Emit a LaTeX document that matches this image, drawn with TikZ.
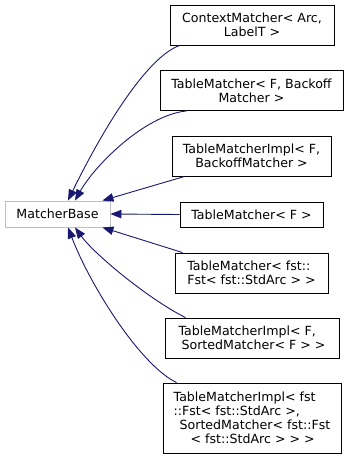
\documentclass[tikz,border=0pt]{standalone}
\usepackage{fontspec}
\setmainfont{DejaVu Sans}
\usetikzlibrary{arrows.meta}
\definecolor{edgeblue}{HTML}{191970}
\definecolor{basegray}{HTML}{BFBFBF}
\begin{document}
\begin{tikzpicture}[x=1pt,y=-1pt,
  cls/.style={draw=black, line width=0.9pt, inner sep=0pt, fill=white,
    font=\fontsize{12.6}{14}\selectfont, align=center},
  inherit/.style={draw=edgeblue, line width=0.9pt,
    {Triangle[length=11pt,width=8.5pt]}-}]
\useasboundingbox (0,0) rectangle (349,459);

% base class
\node[cls, draw=basegray, minimum width=105pt, minimum height=26pt] (mb) at (57.5,214) {MatcherBase};

% derived classes
\node[cls, minimum width=164pt, minimum height=40pt] (c1) at (252,25)
  {ContextMatcher< Arc,\\LabelT >};
\node[cls, minimum width=183pt, minimum height=40pt] (c2) at (251.5,90.5)
  {TableMatcher< F, Backoff\\Matcher >};
\node[cls, minimum width=159pt, minimum height=40pt] (c3) at (251.5,156)
  {TableMatcherImpl< F,\\BackoffMatcher >};
\node[cls, minimum width=143pt, minimum height=25pt] (c4) at (251.5,214.5)
  {TableMatcher< F >};
\node[cls, align=left, minimum width=153pt, minimum height=40pt] (c5) at (251.5,273)
  {TableMatcher< fst::\\Fst< fst::StdArc > >};
\node[cls, align=left, minimum width=174pt, minimum height=40pt] (c6) at (252,338)
  {TableMatcherImpl< F,\\\hspace*{3pt}SortedMatcher< F > >};
\node[cls, align=left, minimum width=178pt, minimum height=70pt] (c7) at (252,418)
  {TableMatcherImpl< fst\\::Fst< fst::StdArc >,\\\hspace*{6pt}SortedMatcher< fst::Fst\\\hspace*{17pt}< fst::StdArc > > >};

% inheritance arrows
\draw[inherit] ([xshift=10.5pt]mb.north) .. controls (100,135) and (145,58) .. ([xshift=10pt]c1.south west);
\draw[inherit] ([xshift=17.5pt]mb.north) .. controls (95,165) and (145,115) .. ([xshift=27pt]c2.south west);
\draw[inherit] ([xshift=-8pt]mb.north east) -- ([xshift=13pt]c3.south west);
\draw[inherit] (mb.east) -- (c4.west);
\draw[inherit] ([xshift=-8pt]mb.south east) -- ([xshift=8pt]c5.north west);
\draw[inherit] ([xshift=17.5pt]mb.south) .. controls (95,255) and (150,300) .. ([xshift=21pt]c6.north west);
\draw[inherit] ([xshift=10.5pt]mb.south) .. controls (90,285) and (140,365) .. ([xshift=14pt]c7.north west);
\end{tikzpicture}
\end{document}
